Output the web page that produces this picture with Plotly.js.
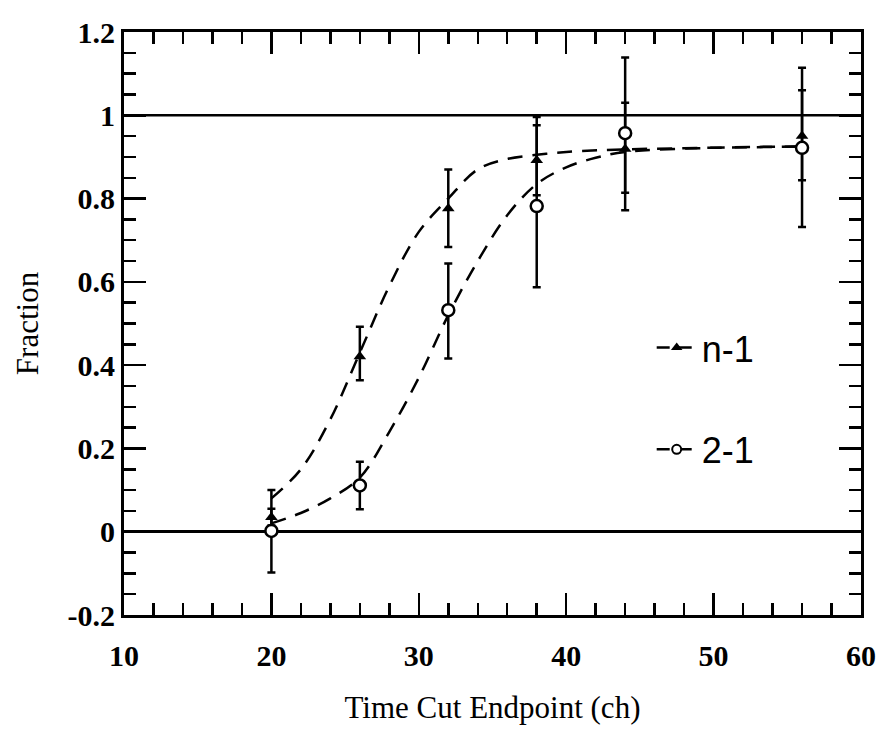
<!DOCTYPE html>
<html>
<head>
<meta charset="utf-8">
<script src="https://cdn.plot.ly/plotly-3.0.1.min.js"></script>
<style>html,body{margin:0;padding:0;background:#fff;}#chart{width:884px;height:738px;}</style>
</head>
<body>
<div id="chart"></div>
<script>
// Measured points
const xPts = [20, 26, 32, 38, 44, 56];
const n1Vals = [0.035, 0.421, 0.776, 0.892, 0.919, 0.950];
const n1ErrPlus = [0.02, 0.071, 0.094, 0.084, 0.111, 0.110];
const n1ErrMinus = [0.02, 0.057, 0.092, 0.084, 0.105, 0.106];
const t21Vals = [0.002, 0.111, 0.532, 0.782, 0.957, 0.922];
const t21ErrPlus = [0.098, 0.057, 0.112, 0.214, 0.182, 0.192];
const t21ErrMinus = [0.100, 0.057, 0.116, 0.195, 0.185, 0.190];

// Fit curves
const n1CurveX = [20, 22, 24, 26, 28, 30, 32, 34, 36, 38, 40, 44, 50, 56];
const n1CurveY = [0.08, 0.15, 0.27, 0.43, 0.59, 0.72, 0.80, 0.87, 0.895, 0.905, 0.912, 0.918, 0.922, 0.925];
const t21CurveX = [20, 22, 24, 26, 28, 30, 32, 34, 36, 38, 40, 42, 44, 50, 56];
const t21CurveY = [0.02, 0.045, 0.08, 0.13, 0.24, 0.37, 0.52, 0.65, 0.76, 0.835, 0.875, 0.898, 0.912, 0.922, 0.925];

const legendNames = ['n-1', '2-1'];

// Tick labels
const xTickVals = [10, 20, 30, 40, 50, 60];
const xTickText = ['10', '20', '30', '40', '50', '60'];
const yTickVals = [-0.2, 0, 0.2, 0.4, 0.6, 0.8, 1, 1.2];
const yTickText = ['-0.2', '0', '0.2', '0.4', '0.6', '0.8', '1', '1.2'];

const dashStyle = '15px,10px';
const black = '#000';
const serif = 'Liberation Serif, Times New Roman, serif';

const traces = [
  {x: n1CurveX, y: n1CurveY, mode: 'lines', line: {color: black, width: 2.5, dash: dashStyle, shape: 'spline'}, showlegend: false, hoverinfo: 'skip'},
  {x: t21CurveX, y: t21CurveY, mode: 'lines', line: {color: black, width: 2.5, dash: dashStyle, shape: 'spline'}, showlegend: false, hoverinfo: 'skip'},
  {x: xPts, y: n1Vals, mode: 'markers', showlegend: false,
   marker: {symbol: 'triangle-up', size: 11, color: black},
   error_y: {type: 'data', array: n1ErrPlus, arrayminus: n1ErrMinus, symmetric: false, color: black, thickness: 2.5, width: 4}},
  {x: xPts, y: t21Vals, mode: 'markers', showlegend: false,
   marker: {symbol: 'circle', size: 12, color: '#fff', line: {width: 2.5, color: black}},
   error_y: {type: 'data', array: t21ErrPlus, arrayminus: t21ErrMinus, symmetric: false, color: black, thickness: 2.5, width: 4}},
  {x: [null], y: [null], name: legendNames[0], legendgroup: 'a', mode: 'lines+markers',
   line: {color: black, width: 2.5, dash: '13px,9px'}, marker: {symbol: 'triangle-up', size: 10, color: black}},
  {x: [null], y: [null], name: legendNames[1], legendgroup: 'b', mode: 'lines+markers',
   line: {color: black, width: 2.5, dash: '13px,9px'}, marker: {symbol: 'circle', size: 9, color: '#fff', line: {width: 2, color: black}}}
];

const axisCommon = {
  showgrid: false, showline: true, linecolor: black, linewidth: 3, mirror: 'ticks',
  ticks: 'inside', ticklen: 22, tickwidth: 2.5, tickcolor: black,
  tickmode: 'array',
  tickfont: {family: serif, size: 30, color: black, weight: 'bold'}
};

const layout = {
  width: 884, height: 738,
  margin: {l: 124, r: 23, t: 32, b: 123},
  paper_bgcolor: '#fff', plot_bgcolor: '#fff',
  showlegend: true,
  legend: {x: 0.716, y: 0.51, xanchor: 'left', yanchor: 'top', bgcolor: 'rgba(0,0,0,0)',
           font: {family: 'Liberation Sans, Arial, sans-serif', size: 36, color: black},
           traceorder: 'grouped', tracegroupgap: 52, itemwidth: 40},
  xaxis: Object.assign({}, axisCommon, {
    range: [10, 60], tickvals: xTickVals, ticktext: xTickText, zeroline: false,
    ticklabelstandoff: 12,
    minor: {dtick: 2, tick0: 10, ticklen: 12, tickwidth: 2.5, tickcolor: black, ticks: 'inside'},
    title: {text: 'Time Cut Endpoint (ch)', standoff: 26, font: {family: serif, size: 31, color: black}}
  }),
  yaxis: Object.assign({}, axisCommon, {
    range: [-0.2, 1.2], tickvals: yTickVals, ticktext: yTickText,
    zeroline: true, zerolinecolor: black, zerolinewidth: 2.5,
    minor: {dtick: 0.05, tick0: 0, ticklen: 12, tickwidth: 2.5, tickcolor: black, ticks: 'inside'},
    title: {text: 'Fraction', standoff: 20, font: {family: serif, size: 31, color: black}}
  }),
  shapes: [
    {type: 'line', xref: 'paper', x0: 0, x1: 1, yref: 'y', y0: 1, y1: 1, line: {color: black, width: 2.5}}
  ]
};

Plotly.newPlot('chart', traces, layout, {displayModeBar: false, staticPlot: true});
</script>
</body>
</html>
